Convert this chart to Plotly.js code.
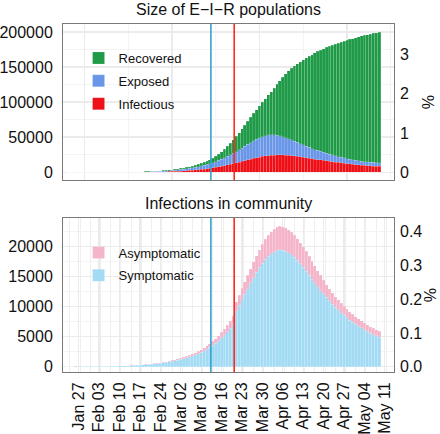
<!DOCTYPE html>
<html>
<head>
<meta charset="utf-8">
<script src="https://cdn.plot.ly/plotly-3.0.1.min.js"></script>
<style>html,body{margin:0;padding:0;background:#fff;}#chart{width:440px;height:434px;}</style>
</head>
<body>
<div id="chart"></div>
<script>
// ---------- DATA ----------
const startDate = '2020-01-23';   // first day with a bar
const population = 5600000;       // population used for the % axes

// Top panel: Size of E-I-R populations (stacked)
const infectious = [18,20,23,25,28,32,36,41,45,51,58,65,74,83,93,105,118,134,150,170,
  191,216,243,275,310,350,394,445,501,565,637,718,809,910,1022,1150,1300,1460,1650,1850,
  2080,2340,2620,2940,3300,3700,4150,4650,5200,5800,6450,7150,7900,8700,9550,10450,11400,12400,13450,14500,
  15600,16700,17800,18900,19950,20900,21800,22600,23300,23900,24300,24600,24750,24800,24700,24500,24200,23800,23300,22750,
  22150,21500,20850,20200,19550,18900,18250,17600,16950,16300,15700,15100,14550,14000,13450,12950,12450,12000,11550,11100,
  10700,10300,9900,9550,9200,8900,8600,8300];
const exposed = [21,24,27,31,35,39,44,49,56,63,71,80,90,101,114,129,145,163,184,207,
  234,264,298,335,379,427,482,543,613,691,779,878,989,1112,1248,1400,1580,1780,2000,2250,
  2530,2840,3190,3570,3990,4460,4950,5500,6100,6750,7450,8200,9050,10000,11050,12200,13450,14700,16050,17500,
  19000,20500,22000,23500,24950,26300,27500,28400,29100,29400,29400,29000,28350,27400,26300,25100,23800,22500,21200,19950,
  18750,17600,16450,15400,14350,13400,12950,12200,11450,10800,10200,9600,9050,8500,7950,7450,7050,6600,6250,6000,
  5700,5500,5400,5250,5200,5100,5100,5100];
const recovered = [11,13,14,16,18,20,22,25,29,32,36,41,46,52,59,66,75,84,95,107,
  121,136,154,174,196,221,250,282,319,361,409,464,527,598,680,770,880,1010,1150,1330,
  1520,1740,1990,2290,2630,3040,3500,4050,4700,5450,6400,7550,8950,10600,12500,14550,16750,19100,21600,24300,
  27200,30200,33200,36100,39100,42200,45400,49000,52800,57000,61500,66400,72400,78600,84800,90800,96600,102100,107400,112400,
  117100,121600,126000,130100,134100,137900,141100,144500,147800,150900,153800,156600,159200,161800,164300,166600,168800,170900,172900,174700,
  176900,178600,180000,181500,182800,184200,185400,186600];

// Bottom panel: Infections in community (stacked)
const symptomatic = [8,10,12,13,16,18,21,24,28,32,37,42,48,55,62,71,81,92,105,119,
  135,153,173,196,221,250,282,318,358,402,451,505,565,631,704,782,871,968,1074,1192,
  1319,1463,1615,1784,1970,2173,2402,2647,2918,3214,3550,3920,4330,4780,5270,5800,6380,7050,9300,10220,
  11140,12060,12980,13900,14810,15670,16480,17200,17830,18370,18780,19110,19320,19410,19350,19170,18910,18570,18150,17640,
  17100,16510,15890,15220,14560,13900,13240,12570,12150,11520,10940,10390,9890,9430,8960,8540,8110,7720,7380,7030,
  6730,6420,6110,5850,5580,5310,5090,4860];
const asymptomatic = [2,2,2,3,3,4,4,5,5,6,7,8,9,10,12,13,15,17,19,22,
  25,28,32,36,41,46,52,58,65,73,82,92,103,115,128,143,159,177,196,218,
  241,267,295,326,360,397,438,483,532,586,650,720,800,890,990,1100,1220,1350,1500,1680,
  1860,2040,2220,2400,2590,2780,2970,3150,3320,3480,3620,3740,3830,3890,3900,3880,3840,3780,3700,3610,
  3500,3390,3260,3130,2990,2850,2710,2580,2200,2080,1960,1860,1760,1670,1590,1510,1440,1380,1320,1270,
  1220,1180,1140,1100,1070,1040,1010,990];

// Intervention dates (vertical lines)
const blueLineDate = '2020-03-12 08:00';
const redLineDate = '2020-03-20 08:00';

// X tick labels (bottom panel)
const tickDates = ['2020-01-27','2020-02-03','2020-02-10','2020-02-17','2020-02-24','2020-03-02','2020-03-09',
  '2020-03-16','2020-03-23','2020-03-30','2020-04-06','2020-04-13','2020-04-20','2020-04-27','2020-05-04','2020-05-11'];
const tickLabels = ['Jan 27','Feb 03','Feb 10','Feb 17','Feb 24','Mar 02','Mar 09',
  'Mar 16','Mar 23','Mar 30','Apr 06','Apr 13','Apr 20','Apr 27','May 04','May 11'];

// ---------- BUILD ----------
function dayList(start, n) {
  const p = start.split('-').map(Number);
  const out = [];
  for (let i = 0; i < n; i++) {
    const d = new Date(Date.UTC(p[0], p[1] - 1, p[2] + i));
    out.push(d.toISOString().slice(0, 10));
  }
  return out;
}
const dates = dayList(startDate, infectious.length);

const C = {
  rec: '#1f9a47', exp: '#6a96e8', inf: '#ee0f17',
  asy: '#f4b5cb', sym: '#a4dbf4',
  blue: '#35a3cf', red: '#ff2a1a',
  grid: '#ebebeb', minor: '#f4f4f4', border: '#7a7a7a', text: '#111111'
};

const bar = (y, name, color, xa, ya, lg, rank) => ({
  type: 'bar', x: dates, y: y, name: name, xaxis: xa, yaxis: ya,
  legend: lg, legendgroup: name, legendrank: rank,
  marker: {color: color, line: {width: 0.6, color: 'rgba(255,255,255,0.28)'}}, hoverinfo: 'x+y+name'
});

const traces = [
  bar(infectious, 'Infectious', C.inf, 'x', 'y', 'legend', 3),
  bar(exposed, 'Exposed', C.exp, 'x', 'y', 'legend', 2),
  bar(recovered, 'Recovered', C.rec, 'x', 'y', 'legend', 1),
  {type: 'scatter', x: [], y: [], xaxis: 'x', yaxis: 'y2', showlegend: false, hoverinfo: 'skip'},
  bar(symptomatic, 'Symptomatic', C.sym, 'x2', 'y3', 'legend2', 2),
  bar(asymptomatic, 'Asymptomatic', C.asy, 'x2', 'y3', 'legend2', 1),
  {type: 'scatter', x: [], y: [], xaxis: 'x2', yaxis: 'y4', showlegend: false, hoverinfo: 'skip'}
];

const xRange = ['2020-01-21 15:00', '2020-05-14 03:00'];
const topY = [-11000, 211500];
const botY = [-900, 24700];
const DAY = 86400000;

const baseAxis = {
  showline: true, mirror: true, linecolor: C.border, linewidth: 1,
  zeroline: false, ticks: '', tickfont: {size: 16, color: C.text}
};

const vline = (x, xa, ya, color) => ({
  type: 'line', xref: xa, yref: ya + ' domain', x0: x, x1: x, y0: 0, y1: 1,
  line: {color: color, width: 1.6}, layer: 'above'
});

const legendBase = {
  xref: 'paper', yref: 'paper', xanchor: 'left', yanchor: 'top',
  traceorder: 'grouped', tracegroupgap: 3,
  bgcolor: 'rgba(0,0,0,0)', borderwidth: 0, font: {size: 13, color: C.text}
};

const layout = {
  width: 440, height: 434,
  margin: {l: 63, r: 46, t: 24, b: 62, pad: 0},
  paper_bgcolor: '#ffffff', plot_bgcolor: '#ffffff',
  font: {family: 'Liberation Sans, Arial, sans-serif', size: 16, color: C.text},
  barmode: 'stack', bargap: 0,
  showlegend: true,
  title: {text: 'Size of E\u2212I\u2212R populations', font: {size: 16, color: C.text},
    xref: 'paper', x: 0.5, xanchor: 'center', yref: 'container', y: 0.979, yanchor: 'middle'},
  xaxis: Object.assign({}, baseAxis, {
    domain: [0, 1], anchor: 'y', type: 'date', range: xRange,
    showticklabels: false, tickmode: 'linear', tick0: '2020-01-29', dtick: 30 * DAY,
    showgrid: true, gridcolor: C.grid, gridwidth: 1.5,
    minor: {tickmode: 'linear', tick0: '2020-01-29', dtick: 15 * DAY, showgrid: true, gridcolor: C.minor, gridwidth: 1}
  }),
  yaxis: Object.assign({}, baseAxis, {
    domain: [0.5517, 1], anchor: 'x', range: topY,
    tickmode: 'linear', tick0: 0, dtick: 50000, tickformat: 'd',
    showgrid: true, gridcolor: C.grid, gridwidth: 1.5,
    minor: {tickmode: 'linear', tick0: 0, dtick: 25000, showgrid: true, gridcolor: C.minor, gridwidth: 1},
    ticklabelstandoff: 6
  }),
  yaxis2: Object.assign({}, baseAxis, {
    overlaying: 'y', side: 'right', anchor: 'x',
    range: [topY[0] / population * 100, topY[1] / population * 100],
    tickmode: 'linear', tick0: 0, dtick: 1, showgrid: false, showline: false,
    ticklabelstandoff: 5,
    title: {text: '%', font: {size: 16, color: C.text}, standoff: 14}
  }),
  xaxis2: Object.assign({}, baseAxis, {
    domain: [0, 1], anchor: 'y3', type: 'date', range: xRange,
    tickmode: 'array', tickvals: tickDates, ticktext: tickLabels, tickangle: -90,
    ticklabelstandoff: 3,
    showgrid: true, gridcolor: C.grid, gridwidth: 1.2,
    minor: {tickmode: 'linear', tick0: '2020-01-27 12:00', dtick: 3.5 * DAY, showgrid: true, gridcolor: '#efefef', gridwidth: 1}
  }),
  yaxis3: Object.assign({}, baseAxis, {
    domain: [0, 0.4425], anchor: 'x2', range: botY,
    tickmode: 'linear', tick0: 0, dtick: 5000, tickformat: 'd',
    showgrid: true, gridcolor: C.grid, gridwidth: 1.5,
    minor: {tickmode: 'linear', tick0: 0, dtick: 2500, showgrid: true, gridcolor: C.minor, gridwidth: 1},
    ticklabelstandoff: 6
  }),
  yaxis4: Object.assign({}, baseAxis, {
    overlaying: 'y3', side: 'right', anchor: 'x2',
    range: [botY[0] / population * 100, botY[1] / population * 100],
    tickmode: 'linear', tick0: 0, dtick: 0.1, tickformat: '.1f', showgrid: false, showline: false,
    ticklabelstandoff: 5,
    title: {text: '%', font: {size: 16, color: C.text}, standoff: 0}
  }),
  legend: Object.assign({}, legendBase, {x: 0.047, y: 0.9455}),
  legend2: Object.assign({}, legendBase, {x: 0.047, y: 0.3865}),
  annotations: [{
    text: 'Infections in community', showarrow: false,
    xref: 'paper', yref: 'paper', x: 0.5, y: 0.4856, xanchor: 'center', yanchor: 'middle',
    font: {size: 16, color: C.text}
  }],
  shapes: [
    vline(blueLineDate, 'x', 'y', C.blue),
    vline(redLineDate, 'x', 'y', C.red),
    vline(blueLineDate, 'x2', 'y3', C.blue),
    vline(redLineDate, 'x2', 'y3', C.red)
  ]
};

Plotly.newPlot('chart', traces, layout, {displayModeBar: false, staticPlot: true});
</script>
</body>
</html>
